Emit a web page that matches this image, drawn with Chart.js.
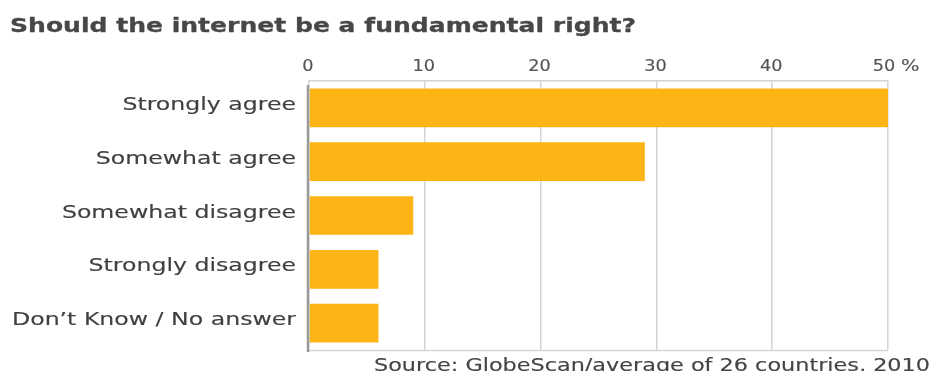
<!DOCTYPE html>
<html><head><meta charset="utf-8">
<script src="https://cdn.jsdelivr.net/npm/chart.js@4"></script>
<style>html,body{margin:0;padding:0;background:#fff;}#wrap{width:934px;height:371px;}</style>
</head><body><div id="wrap"><canvas id="c"></canvas></div>
<script>
const chartTitle = "Should the internet be a fundamental right?";
const sourceNote = "Source: GlobeScan/average of 26 countries, 2010";
const categories = ["Strongly agree", "Somewhat agree", "Somewhat disagree", "Strongly disagree", "Don\u2019t Know / No answer"];
const values = [50, 29, 9, 6, 6];
const xTicks = [0, 10, 20, 30, 40, 50];
const unitLabel = "%";

const FONT = "'DejaVu Sans', Verdana, sans-serif";

function widthOf(ctx, font, text) { ctx.save(); ctx.font = font; const w = ctx.measureText(text).width; ctx.restore(); return w; }
function drawStretched(ctx, text, x, y, align, sx, font, color, weight) {
  ctx.save();
  ctx.font = font; ctx.fillStyle = color; ctx.strokeStyle = color; ctx.textAlign = align; ctx.textBaseline = 'alphabetic';
  ctx.translate(x, y); ctx.scale(sx, 1); ctx.fillText(text, 0, 0);
  if (weight) { ctx.lineWidth = weight; ctx.lineJoin = 'round'; ctx.strokeText(text, 0, 0); }
  ctx.restore();
}

const textLayer = {
  id: 'textLayer',
  afterDraw(chart) {
    const ctx = chart.ctx, a = chart.chartArea, xs = chart.scales.x, ys = chart.scales.y;
    ctx.save();
    // bottom frame line
    ctx.strokeStyle = '#d4d4d4'; ctx.lineWidth = 1.5;
    ctx.beginPath(); ctx.moveTo(a.left, a.bottom + 0.5); ctx.lineTo(a.right, a.bottom + 0.5); ctx.stroke();
    // left axis line
    ctx.strokeStyle = '#9a9a9a'; ctx.lineWidth = 2.5;
    ctx.beginPath(); ctx.moveTo(a.left - 1, a.top + 4); ctx.lineTo(a.left - 1, a.bottom + 2); ctx.stroke();
    ctx.restore();

    // title
    const tFont = "bold 19px " + FONT;
    drawStretched(ctx, chartTitle, 10, 32, 'left', 626 / widthOf(ctx, tFont, chartTitle), tFont, '#474747', 0.3);

    // category labels
    const lFont = "18px " + FONT;
    const longest = categories.reduce((m, c) => Math.max(m, widthOf(ctx, lFont, c)), 0);
    const lsx = 284 / longest;
    categories.forEach((c, i) => drawStretched(ctx, c, a.left - 13, ys.getPixelForValue(i) + 2, 'right', lsx, lFont, '#404040', 0.15));

    // value tick labels
    const kFont = "15px " + FONT;
    const last = xTicks[xTicks.length - 1];
    xTicks.forEach(v => drawStretched(ctx, String(v), xs.getPixelForValue(v) - (v === last ? 4 : 1), 70.5, 'center', 1.18, kFont, '#555', 0.15));
    drawStretched(ctx, unitLabel, xs.getPixelForValue(last) + 13, 70.5, 'left', 1.3, kFont, '#555', 0.15);

    // source
    const sFont = "17px " + FONT;
    drawStretched(ctx, sourceNote, 930, 371, 'right', 556 / widthOf(ctx, sFont, sourceNote), sFont, '#444', 0.15);
  }
};

new Chart(document.getElementById('c'), {
  type: 'bar',
  data: { labels: categories, datasets: [{ data: values, backgroundColor: '#fdb415', borderWidth: 0, barPercentage: 0.72, categoryPercentage: 1 }] },
  options: {
    indexAxis: 'y', responsive: true, maintainAspectRatio: false, animation: false,
    layout: { padding: { left: 0, right: 46, top: 0, bottom: 21 } },
    plugins: { legend: { display: false }, tooltip: { enabled: false } },
    scales: {
      x: {
        position: 'top', min: 0, max: 50,
        afterBuildTicks(s) { s.ticks = xTicks.map(v => ({ value: v })); },
        afterFit(s) { s.height = 81; },
        ticks: { display: false },
        grid: { color: '#d4d4d4', lineWidth: 1.5, drawTicks: false },
        border: { display: true, color: '#d4d4d4', width: 1.5 }
      },
      y: {
        afterFit(s) { s.width = 309; },
        ticks: { display: false },
        grid: { display: false, drawTicks: false },
        border: { display: false }
      }
    }
  },
  plugins: [textLayer]
});
</script></body></html>
